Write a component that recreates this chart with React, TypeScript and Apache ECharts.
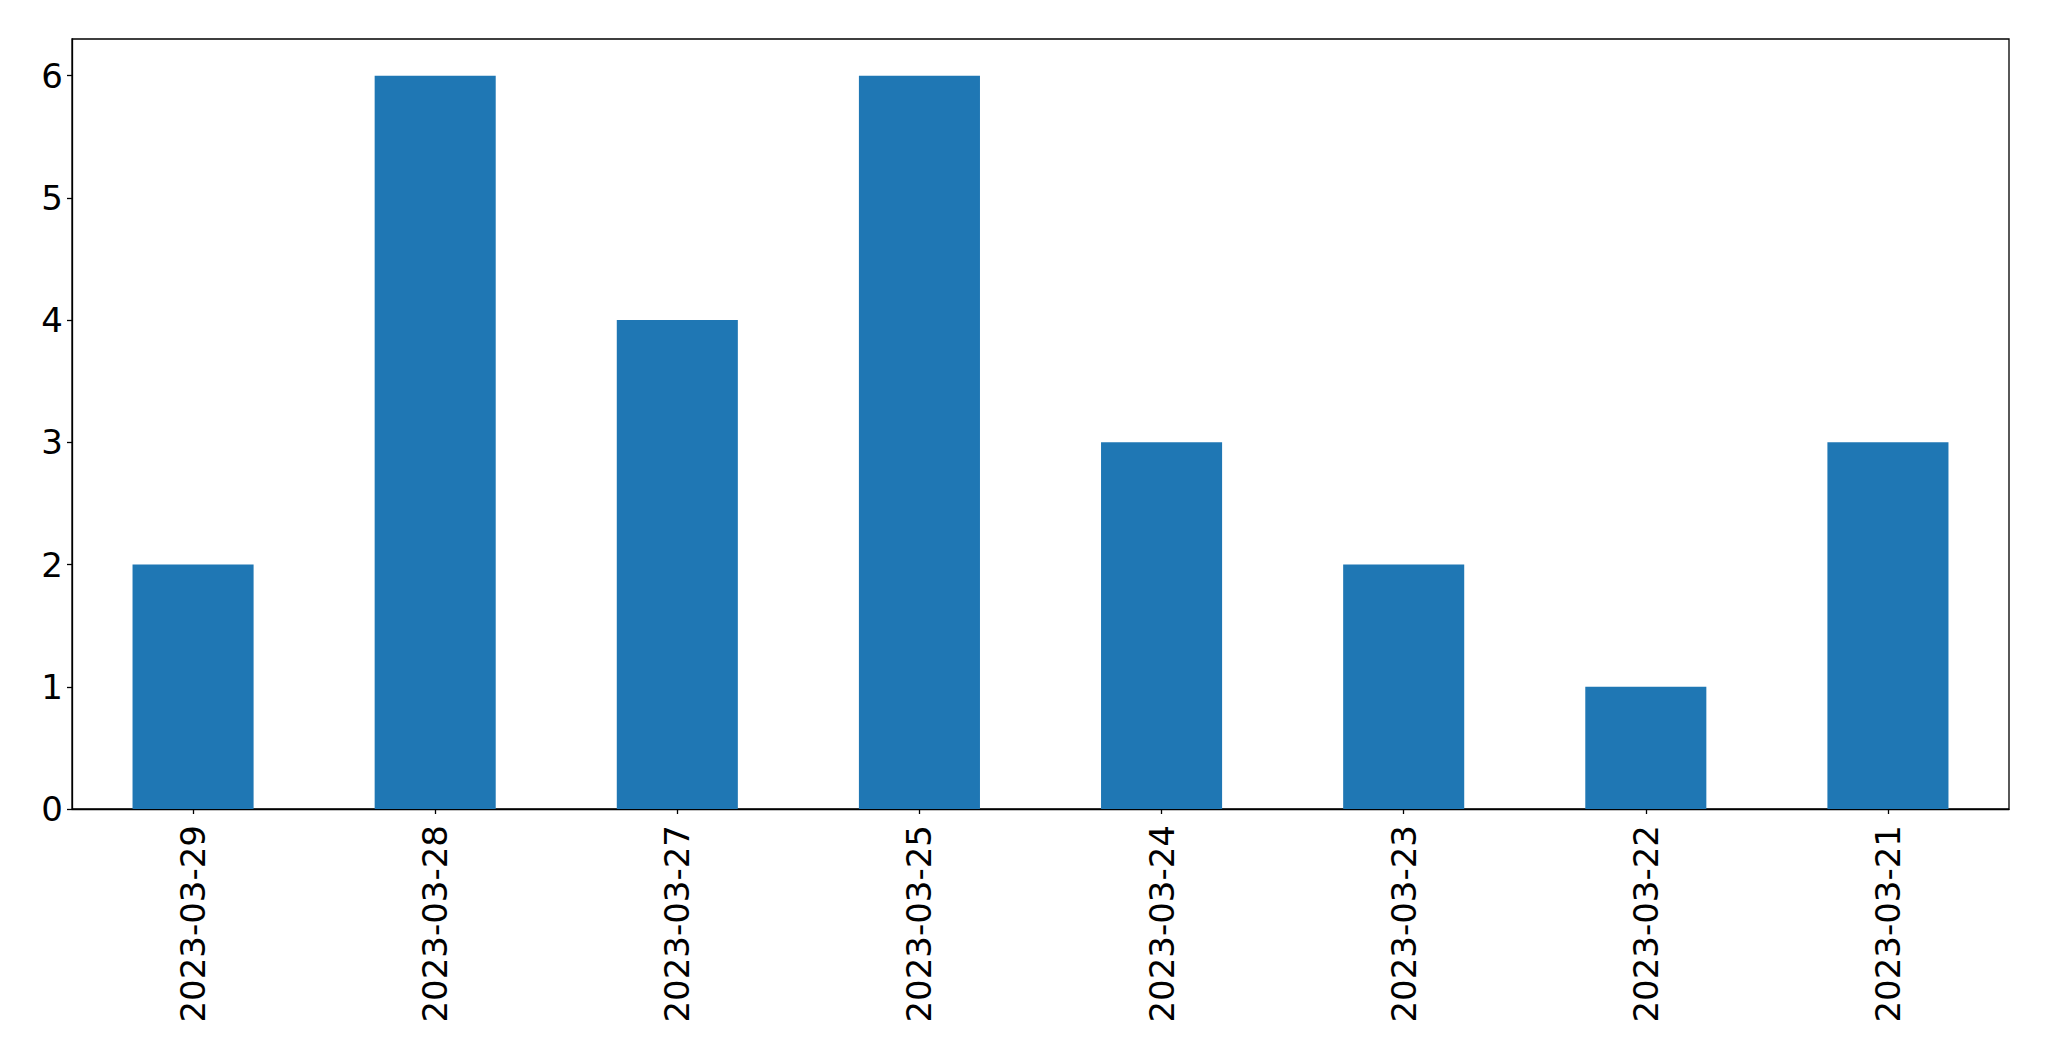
import React, { useEffect, useRef } from "react";
import * as echarts from "echarts";

const categories = ["2023-03-29", "2023-03-28", "2023-03-27", "2023-03-25", "2023-03-24", "2023-03-23", "2023-03-22", "2023-03-21"];
const values = [2, 6, 4, 6, 3, 2, 1, 3];
const yMax = 6.3;

export default function App() {
  const ref = useRef<HTMLDivElement>(null);
  useEffect(() => {
    if (!ref.current) return;
    const chart = echarts.init(ref.current, null, { renderer: "svg" });
    const font = "DejaVu Sans";
    chart.setOption({
      animation: false,
      backgroundColor: "#ffffff",
      textStyle: { fontFamily: font },
      grid: {
        left: 72,
        right: 40,
        top: 39,
        bottom: 252,
        show: true,
        borderColor: "#000000",
        borderWidth: 1.3,
        backgroundColor: "transparent",
        containLabel: false,
      },
      xAxis: {
        type: "category",
        data: categories,
        boundaryGap: true,
        axisLine: { show: true, lineStyle: { color: "#000000", width: 1.3 } },
        axisTick: { show: true, alignWithLabel: true, length: 5, lineStyle: { color: "#000000", width: 1.3 } },
        axisLabel: { rotate: 90, margin: 16, fontSize: 34, color: "#000000", fontFamily: font, interval: 0 },
        splitLine: { show: false },
      },
      yAxis: {
        type: "value",
        min: 0,
        max: yMax,
        interval: 1,
        axisLine: { show: true, lineStyle: { color: "#000000", width: 1.3 } },
        axisTick: { show: true, length: 5, lineStyle: { color: "#000000", width: 1.3 } },
        axisLabel: { margin: 9, fontSize: 34, color: "#000000", fontFamily: font, showMaxLabel: false },
        splitLine: { show: false },
      },
      series: [
        {
          type: "bar",
          data: values,
          barWidth: "50%",
          itemStyle: { color: "#1f77b4" },
        },
      ],
    });
    return () => chart.dispose();
  }, []);
  return (
    <div
      ref={ref}
      style={{ position: "fixed", left: 0, top: 0, width: 2049, height: 1061, background: "#fff" }}
    />
  );
}
